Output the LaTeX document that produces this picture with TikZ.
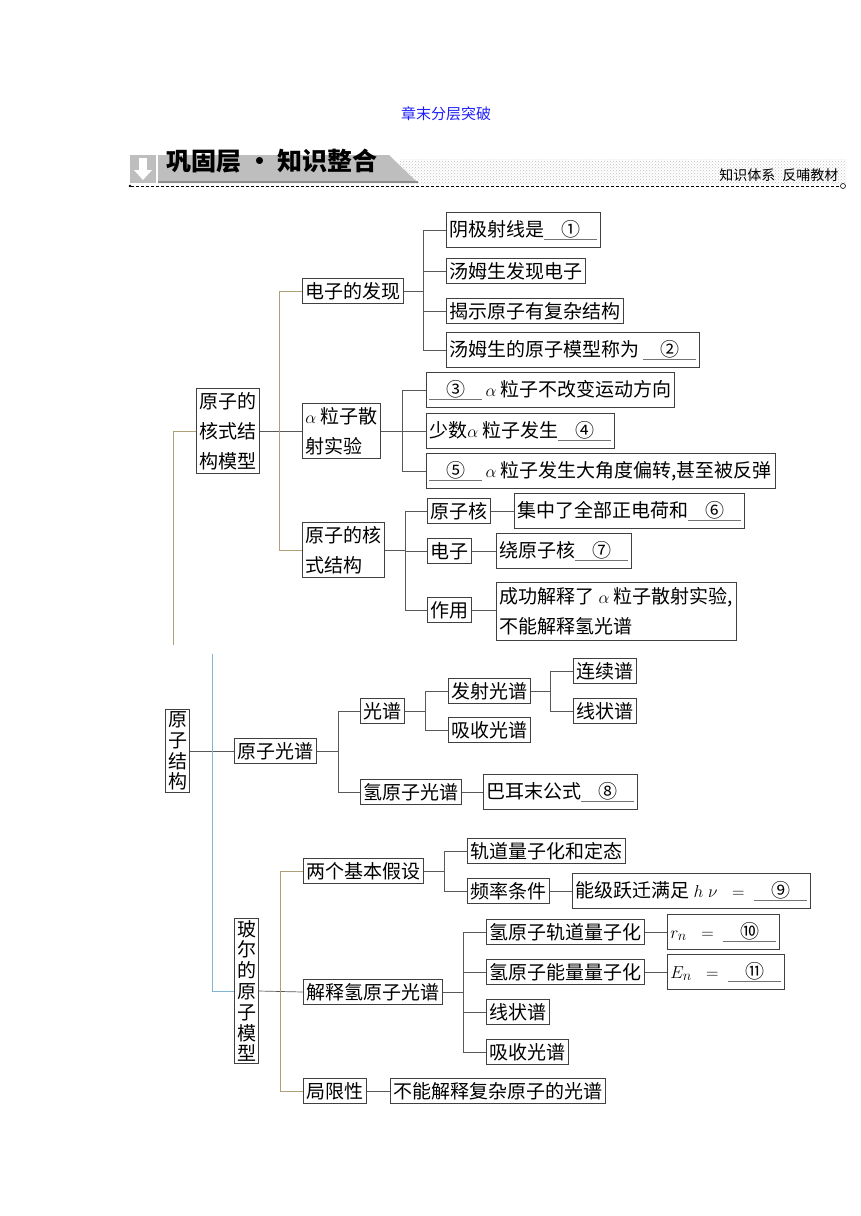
\documentclass[tikz,border=0pt]{standalone}
\usepackage{fontspec}
\setmainfont{Noto Sans CJK SC}
\usetikzlibrary{patterns}
\definecolor{tanline}{RGB}{176,160,120}
\definecolor{blueline}{RGB}{130,180,215}
\definecolor{headgray}{RGB}{190,190,190}
\definecolor{titleblue}{RGB}{30,30,250}
\newcommand{\blankno}[1]{\rlap{\color{black!55}\rule[-4pt]{53pt}{0.6pt}}\makebox[53pt]{#1}}
\begin{document}
\begin{tikzpicture}[x=1pt,y=-1pt,
    box/.style={draw=black!75, line width=0.7pt, inner xsep=3pt, inner ysep=2pt, minimum height=25pt, anchor=west, font=\fontsize{19}{23}\selectfont},
    tallbox/.style={box, minimum height=35pt},
    multi/.style={box, align=left, inner ysep=4pt, font=\fontsize{19}{30}\selectfont},
    vert/.style={box, anchor=center, align=center, inner xsep=2.5pt, font=\fontsize{19}{20.8}\selectfont},
    link/.style={draw=black!65, line width=0.7pt},
    tanlink/.style={draw=tanline, line width=0.9pt},
    bluelink/.style={draw=blueline, line width=1pt}]
        \useasboundingbox (0,0) rectangle (860,1216);
        %%%HEADER%%%
        \node[font=\fontsize{15}{15}\selectfont, text=titleblue] (title) at (446,114) {章末分层突破};
        \fill[pattern=crosshatch dots, pattern color=black!25] (400,159) rectangle (846,184);
        \fill[headgray] (130,155) rectangle (156,183);
        \fill[white] (139,158) rectangle (147,170);
        \fill[white] (134,170) -- (152,170) -- (143,180) -- cycle;
        \fill[headgray] (158,155) -- (389,155) -- (418,183) -- (158,183) -- cycle;
        \draw[black!45, line width=1.5pt] (158,182) -- (418,182);
        \node[font=\fontsize{25}{25}\selectfont\bfseries, anchor=west] (hdtitle) at (163,161) {巩固层 · 知识整合};
        \node[font=\fontsize{14}{14}\selectfont, anchor=east] (hdsub) at (842,175) {知识体系\enspace 反哺教材};
        \draw[dash pattern=on 3pt off 2pt, line width=0.8pt] (131,186) -- (840,186);
        \fill (130,186) circle (1.3);
        \draw[line width=0.6pt] (843,186) circle (2.5);
        %%%NUCLEAR MODEL%%%
        \node[multi] (hsmx) at (196,431) {原子的\\核式结\\构模型};
        \node[box] (dzfx) at (302,291) {电子的发现};
        \node[multi] (lzsh) at (302,431) {$\alpha$ 粒子散\\射实验};
        \node[multi] (hsjg) at (302,550) {原子的核\\式结构};
        %electron
        \node[tallbox] (yjsx) at (446,230) {阴极射线是\blankno{①}};
        \node[box] (tmsfx) at (446,271) {汤姆生发现电子};
        \node[box] (jsyz) at (446,311) {揭示原子有复杂结构};
        \node[tallbox] (tmsmx) at (446,350) {汤姆生的原子模型称为\hspace{4pt}\blankno{②}};
        %alpha
        \node[tallbox] (azbg) at (426,390) {\blankno{③}\,$\alpha$ 粒子不改变运动方向};
        \node[tallbox] (szfs) at (426,431) {少数$\alpha$ 粒子发生\blankno{④}};
        \node[tallbox] (djdpz) at (426,471) {\blankno{⑤}\,$\alpha$ 粒子发生大角度偏转,甚至被反弹};
        %structure
        \node[box] (yzh) at (427,511) {原子核};
        \node[tallbox] (jzdh) at (514,511) {集中了全部正电荷和\blankno{⑥}};
        \node[box] (dz) at (427,551) {电子};
        \node[tallbox] (ryzh) at (496,551) {绕原子核\blankno{⑦}};
        \node[box] (zy) at (427,610) {作用};
        \node[multi, inner ysep=2pt, minimum height=58pt] (cgjs) at (496,611) {成功解释了 $\alpha$ 粒子散射实验,\\不能解释氢光谱};
        %links
        \path (hsmx.east) ++(20,0) coordinate (hsmxb);
        \draw[link] (hsmx.east) -- (lzsh.west);
        \draw[tanlink] (hsmxb) |- (dzfx.west);
        \draw[tanlink] (hsmxb) |- (hsjg.west);
        \draw[link] (dzfx.east) -- ++(20,0) coordinate (dzfxb);
        \foreach \n in {yjsx,tmsfx,jsyz,tmsmx} \draw[link] (dzfxb) |- (\n.west);
        \draw[link] (lzsh.east) -- ++(22,0) coordinate (lzshb);
        \foreach \n in {azbg,szfs,djdpz} \draw[link] (lzshb) |- (\n.west);
        \draw[link] (hsjg.east) -- ++(21,0) coordinate (hsjgb);
        \foreach \n in {yzh,dz,zy} \draw[link] (hsjgb) |- (\n.west);
        \draw[link] (yzh.east) -- (jzdh.west);
        \draw[link] (dz.east) -- (ryzh.west);
        \draw[link] (zy.east) -- (zy.east -| cgjs.west);
        %trunk
        \coordinate (tAend) at (173,645);
        \draw[tanlink] (hsmx.west) -| (tAend);
        %%%SPECTRA%%%
        \node[vert] (yzjg) at (177.5,751) {原\\子\\结\\构};
        \node[box] (yzgp) at (234,751) {原子光谱};
        \node[box] (gp) at (360,711) {光谱};
        \node[box] (qgp) at (360,792) {氢原子光谱};
        \node[tallbox] (bmgs) at (483,792) {巴耳末公式\blankno{⑧}};
        \node[box] (fsgp) at (448,691) {发射光谱};
        \node[box] (xsgp) at (448,730) {吸收光谱};
        \node[box] (lxp) at (573,671) {连续谱};
        \node[box] (xzp) at (573,711) {线状谱};
        \draw[link] (yzjg.east) -- (yzgp.west);
        \draw[link] (yzgp.east) -- ++(22,0) coordinate (yzgpb);
        \foreach \n in {gp,qgp} \draw[link] (yzgpb) |- (\n.west);
        \draw[link] (qgp.east) -- (bmgs.west);
        \draw[link] (gp.east) -- ++(21,0) coordinate (gpb);
        \foreach \n in {fsgp,xsgp} \draw[link] (gpb) |- (\n.west);
        \draw[link] (fsgp.east) -- ++(20,0) coordinate (fsgpb);
        \foreach \n in {lxp,xzp} \draw[link] (fsgpb) |- (\n.west);
        %%%BOHR MODEL%%%
        \node[vert] (bemx) at (246.5,991) {玻\\尔\\的\\原\\子\\模\\型};
        \node[box] (jbjs) at (303,871) {两个基本假设};
        \node[box] (jsqg) at (303,992) {解释氢原子光谱};
        \node[box] (jxx) at (303,1091) {局限性};
        \node[box] (bnjs) at (390,1091) {不能解释复杂原子的光谱};
        \node[box] (gdlz) at (467,851) {轨道量子化和定态};
        \node[box] (pltj) at (467,891) {频率条件};
        \node[tallbox] (njyq) at (572,891) {能级跃迁满足 $h\;\nu\;\;=\;\;$\blankno{⑨}};
        \node[box] (qgd) at (486,932) {氢原子轨道量子化};
        \node[box] (qnl) at (486,972) {氢原子能量量子化};
        \node[box] (xzp2) at (486,1012) {线状谱};
        \node[box] (xsgp2) at (486,1052) {吸收光谱};
        \node[tallbox] (rn) at (667,932) {$r_{n}\;\;=\;\;$\blankno{⑩}};
        \node[tallbox] (en) at (667,972) {$E_{n}\;\;=\;\;$\blankno{⑪}};
        %links
        \path (bemx.east) ++(22,0) coordinate (bemxb);
        \draw[link] (bemx.east) -- (jsqg.west);
        \draw[tanlink] (bemxb) |- (jbjs.west);
        \draw[tanlink] (bemxb) |- (jxx.west);
        \draw[link] (jxx.east) -- (bnjs.west);
        \draw[link] (jbjs.east) -- ++(21,0) coordinate (jbjsb);
        \foreach \n in {gdlz,pltj} \draw[link] (jbjsb) |- (\n.west);
        \draw[link] (pltj.east) -- (njyq.west);
        \draw[link] (jsqg.east) -- ++(21,0) coordinate (jsqgb);
        \foreach \n in {qgd,qnl,xzp2,xsgp2} \draw[link] (jsqgb) |- (\n.west);
        \draw[link] (qgd.east) -- (rn.west);
        \draw[link] (qnl.east) -- (en.west);
        %trunk
        \coordinate (tBtop) at (212,654);
        \draw[bluelink] (tBtop) |- (bemx.west);
    \end{tikzpicture}
\end{document}
